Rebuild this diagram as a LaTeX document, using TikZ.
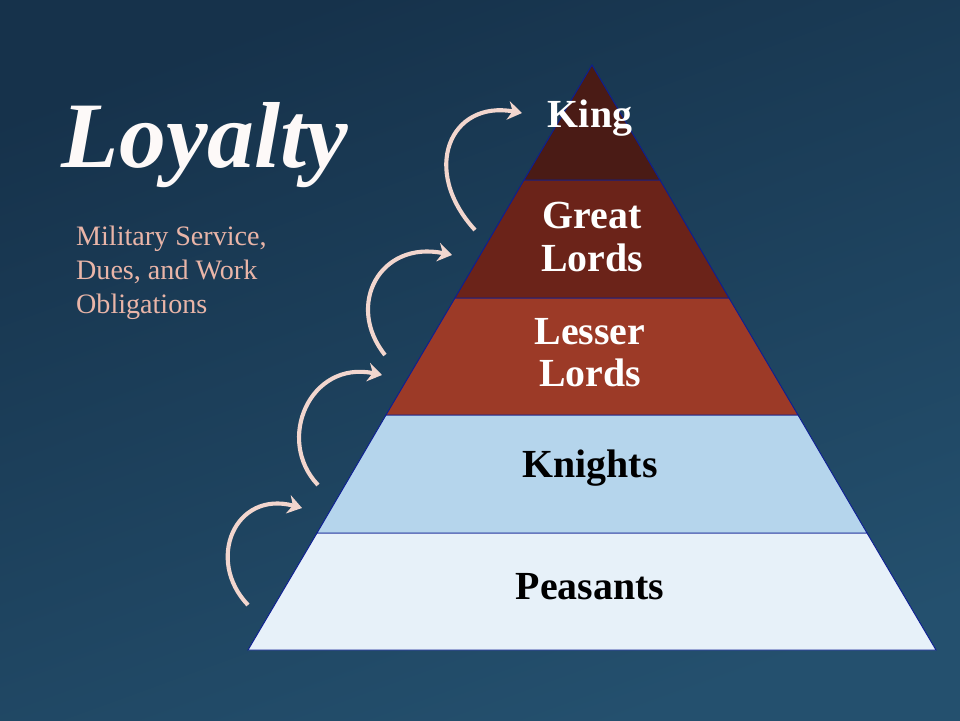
\documentclass[tikz,border=0pt]{standalone}
\usepackage{fontspec}
\setmainfont{Liberation Serif}
\usetikzlibrary{arrows.meta}
\definecolor{bgdark}{HTML}{16324B}
\definecolor{bglight}{HTML}{24506E}
\definecolor{kingc}{HTML}{4A1B15}
\definecolor{greatc}{HTML}{6B2319}
\definecolor{lesserc}{HTML}{9C3A27}
\definecolor{knightc}{HTML}{B5D5EC}
\definecolor{peasantc}{HTML}{E7F1F9}
\definecolor{pinktext}{HTML}{E9B5A8}
\definecolor{arrowc}{HTML}{F2D6CE}
\tikzset{
	level/.style={draw=bgdark!60!blue, thick},
	lighttext/.style={text=white, font=\bfseries\fontsize{34}{36}\selectfont, align=center},
	darktext/.style={text=black, font=\bfseries\fontsize{34}{36}\selectfont, align=center},
	loyalarrow/.style={draw=arrowc, line width=3.5pt, -{Stealth[length=12pt,width=16pt]}}
}
\begin{document}
\begin{tikzpicture}[x=0.03cm, y=-0.03cm]
	% Hintergrund
	\shade[top color=bglight, bottom color=bgdark, shading angle=200] (0,0) rectangle (960,720);
	\useasboundingbox (0,0) rectangle (960,720);
	% Stufen
	\filldraw[level, fill=peasantc] (317,533) -- (867,533) -- (936,650) -- (248,650) -- cycle;
	\filldraw[level, fill=knightc] (386,415) -- (798,415) -- (867,533) -- (317,533) -- cycle;
	\filldraw[level, fill=lesserc] (455,298) -- (729,298) -- (798,415) -- (386,415) -- cycle;
	\filldraw[level, fill=greatc] (524,180) -- (660,180) -- (729,298) -- (455,298) -- cycle;
	\filldraw[level, fill=kingc] (592,65) -- (660,180) -- (524,180) -- cycle;
	% Beschriftungen
	\node[lighttext] (king) at (590,118) {King};
	\node[lighttext] (great) at (592,237) {Great\\Lords};
	\node[lighttext] (lesser) at (590,353) {Lesser\\Lords};
	\node[darktext] (knights) at (590,468) {Knights};
	\node[darktext] (peasants) at (590,587) {Peasants};
	\node[text=white!92!pinktext, font=\bfseries\itshape\fontsize{80}{80}\selectfont] (title) at (205,145) {Loyalty};
	\node[text=pinktext, font=\fontsize{24}{29}\selectfont, align=left, anchor=north west] (duties) at (72,222)
		{Military Service,\\Dues, and Work\\Obligations};
	% Pfeile
	\coordinate (a1s) at (475,230); \coordinate (a1e) at (522,113);
	\coordinate (a2s) at (385,355); \coordinate (a2e) at (452,255);
	\coordinate (a3s) at (318,485); \coordinate (a3e) at (382,375);
	\coordinate (a4s) at (248,605); \coordinate (a4e) at (302,508);
	\draw[loyalarrow] (a1s) .. controls (420,170) and (450,100) .. (a1e);
	\draw[loyalarrow] (a2s) .. controls (345,305) and (380,240) .. (a2e);
	\draw[loyalarrow] (a3s) .. controls (275,440) and (310,360) .. (a3e);
	\draw[loyalarrow] (a4s) .. controls (205,560) and (235,490) .. (a4e);
\end{tikzpicture}
\end{document}
